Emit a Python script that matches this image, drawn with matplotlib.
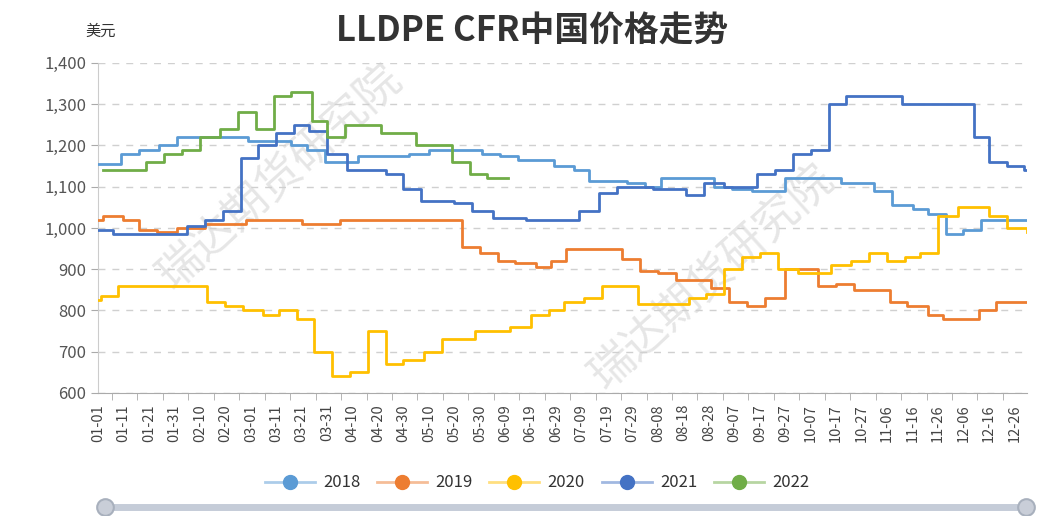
import matplotlib.pyplot as plt
from matplotlib.lines import Line2D
from matplotlib.legend_handler import HandlerTuple
from matplotlib.ticker import FuncFormatter, FixedLocator

plt.rcParams['font.family'] = ['Noto Sans CJK SC', 'DejaVu Sans']

# 日期标签 (闰年日历, 每10天一个)
tick_days = list(range(0, 361, 10))
tick_labels = ['01-01', '01-11', '01-21', '01-31', '02-10', '02-20', '03-01', '03-11', '03-21',
               '03-31', '04-10', '04-20', '04-30', '05-10', '05-20', '05-30', '06-09', '06-19',
               '06-29', '07-09', '07-19', '07-29', '08-08', '08-18', '08-28', '09-07', '09-17',
               '09-27', '10-07', '10-17', '10-27', '11-06', '11-16', '11-26', '12-06', '12-16',
               '12-26']

# 价格变动点 (日序号, 美元/吨)
days_2018 = [0, 9, 16, 24, 31, 59, 76, 82, 89, 102, 122, 130, 151, 158, 165, 179, 187, 193, 208, 215,
             221, 242, 249, 257, 270, 292, 305, 312, 320, 326, 333, 340, 347, 365]
vals_2018 = [1155, 1180, 1190, 1200, 1220, 1210, 1200, 1190, 1160, 1175, 1180, 1190, 1180, 1175, 1165,
             1150, 1140, 1115, 1110, 1100, 1120, 1100, 1095, 1090, 1120, 1110, 1090, 1055, 1045, 1035,
             985, 995, 1020, 1020]

days_2019 = [0, 2, 10, 16, 23, 31, 42, 58, 80, 95, 143, 150, 157, 164, 172, 178, 184, 206, 213, 220,
             227, 241, 248, 255, 262, 270, 283, 290, 297, 311, 318, 326, 332, 346, 353, 365]
vals_2019 = [1020, 1030, 1020, 995, 990, 1000, 1010, 1020, 1010, 1020, 955, 940, 920, 915, 905, 920,
             950, 925, 895, 890, 875, 855, 820, 810, 830, 900, 860, 865, 850, 820, 810, 790, 780, 800,
             820, 820]

days_2020 = [0, 1, 8, 43, 50, 57, 65, 71, 78, 85, 92, 99, 106, 113, 120, 128, 135, 148, 162, 170,
             177, 183, 191, 198, 212, 232, 239, 246, 253, 260, 267, 275, 288, 296, 303, 310, 317, 323,
             330, 338, 350, 357, 365]
vals_2020 = [825, 835, 860, 820, 810, 800, 790, 800, 780, 700, 640, 650, 750, 670, 680, 700, 730, 750,
             760, 790, 800, 820, 830, 860, 815, 830, 840, 900, 930, 940, 900, 890, 910, 920, 940, 920,
             930, 940, 1030, 1050, 1030, 1000, 990]

days_2021 = [0, 6, 35, 42, 49, 56, 63, 70, 77, 83, 90, 98, 113, 120, 127, 140, 147, 155, 168, 189,
             197, 204, 218, 231, 238, 246, 259, 266, 273, 280, 287, 294, 316, 344, 350, 357, 364, 365]
vals_2021 = [995, 985, 1005, 1020, 1040, 1170, 1200, 1230, 1250, 1235, 1180, 1140, 1130, 1095, 1065,
             1060, 1040, 1025, 1020, 1040, 1085, 1100, 1095, 1080, 1110, 1100, 1130, 1140, 1180, 1190,
             1300, 1320, 1300, 1220, 1160, 1150, 1140, 1140]

days_2022 = [2, 19, 26, 33, 40, 48, 55, 62, 69, 76, 84, 90, 97, 111, 125, 139, 146, 153, 161]
vals_2022 = [1140, 1160, 1180, 1190, 1220, 1240, 1280, 1240, 1320, 1330, 1260, 1220, 1250, 1230, 1200,
             1160, 1130, 1120, 1120]

series = [('2018', days_2018, vals_2018, '#5B9BD5'),
          ('2019', days_2019, vals_2019, '#ED7D31'),
          ('2020', days_2020, vals_2020, '#FFC000'),
          ('2021', days_2021, vals_2021, '#4472C4'),
          ('2022', days_2022, vals_2022, '#70AD47')]

fig = plt.figure(figsize=(10.43, 5.16), dpi=100)
ax = fig.add_axes([0.094, 0.2384, 0.8907, 0.6396])

# 水印
for xw, yw in [(0.195, 0.655), (0.66, 0.35)]:
    ax.text(xw, yw, '瑞达期货研究院', transform=ax.transAxes, rotation=42, fontsize=32,
            color='#e6e6e6', ha='center', va='center', zorder=0)

handles = []
for name, d, v, c in series:
    ax.plot(d, v, drawstyle='steps-post', color=c, lw=2.0, zorder=3)
    h_line = Line2D([], [], color=c, lw=2, alpha=0.5)
    h_dot = Line2D([], [], color=c, marker='o', markersize=10, lw=0)
    handles.append((h_line, h_dot))

ax.set_xlim(0, 365)
ax.set_ylim(600, 1400)
ax.set_yticks(range(600, 1401, 100))
ax.yaxis.set_major_formatter(FuncFormatter(lambda v, p: f'{int(v):,}'))
ax.grid(axis='y', linestyle=(0, (5, 5)), color='#d0d0d0', lw=1)
ax.set_axisbelow(True)

ax.set_xticks(tick_days)
ax.set_xticklabels(tick_labels, rotation=90, fontsize=10.5, color='#444444')
ax.xaxis.set_minor_locator(FixedLocator([d + 5.5 for d in tick_days]))
ax.tick_params(axis='x', which='major', length=0, pad=8)
ax.tick_params(axis='x', which='minor', length=5, color='#aaaaaa')
ax.tick_params(axis='y', length=5, color='#aaaaaa', labelsize=12, labelcolor='#555555')

for s in ['top', 'right']:
    ax.spines[s].set_visible(False)
ax.spines['left'].set_color('#cccccc')
ax.spines['bottom'].set_color('#aaaaaa')

fig.text(0.51, 0.94, 'LLDPE CFR中国价格走势', ha='center', va='center', fontsize=25,
         fontweight='bold', color='#333333')
fig.text(0.096, 0.94, '美元', ha='center', va='center', fontsize=11, color='#333333')

fig.legend(handles, [s[0] for s in series], handler_map={tuple: HandlerTuple(ndivide=1)},
           loc='center', bbox_to_anchor=(0.515, 0.064), ncol=5, frameon=False, fontsize=12,
           handlelength=3.0, columnspacing=1.0, handletextpad=0.5, labelcolor='#333333')

# 底部缩放条
sl = fig.add_axes([0.09, 0.0, 0.905, 0.035])
sl.set_xlim(0, 1)
sl.set_ylim(0, 1)
sl.axis('off')
sl.plot([0.012, 0.988], [0.5, 0.5], color='#c5ccd8', lw=5, solid_capstyle='round')
sl.plot([0.012, 0.988], [0.5, 0.5], ls='none', marker='o', markersize=12,
        markerfacecolor='#c9ced8', markeredgecolor='#a8b0bd', markeredgewidth=1.5)

fig.savefig('out.png', dpi=100)
